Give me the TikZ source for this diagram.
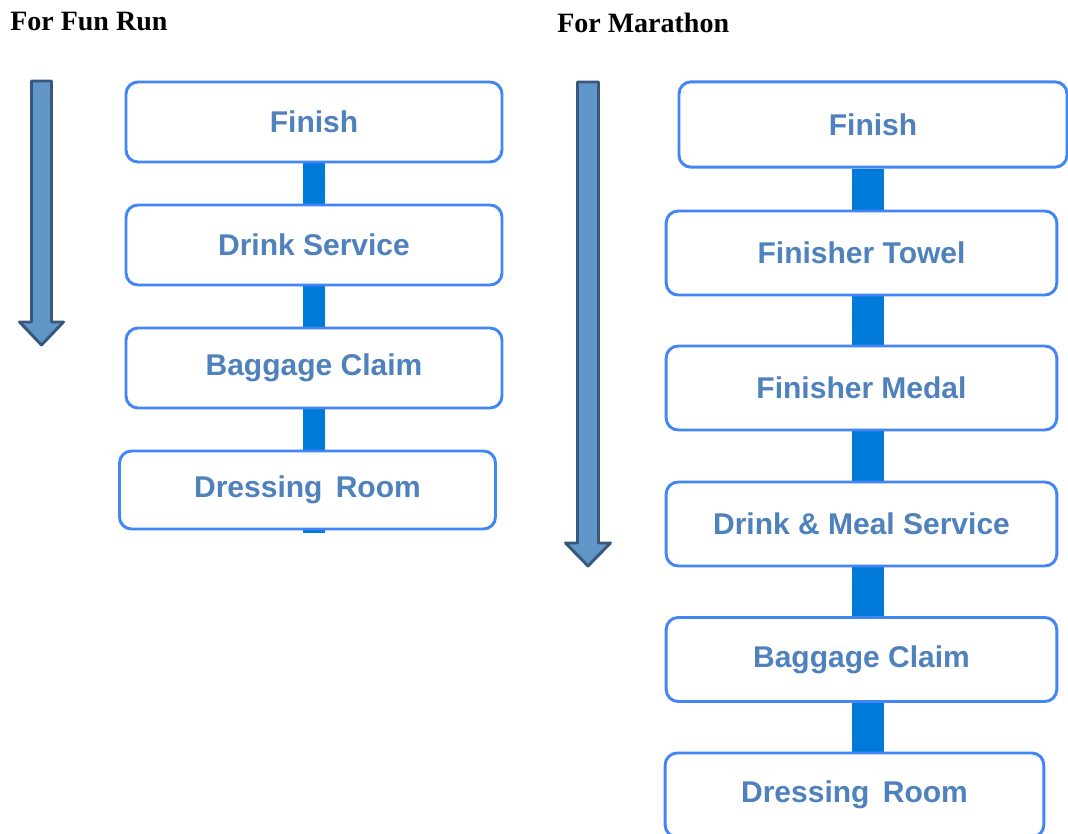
\documentclass[tikz,border=0pt]{standalone}
\usepackage{fontspec}
\setmainfont{Liberation Serif}
\setsansfont{Liberation Sans}
\usepackage{xcolor}
\usetikzlibrary{positioning,backgrounds}
\definecolor{boxline}{RGB}{66,133,244}
\definecolor{boxtext}{RGB}{79,129,189}
\definecolor{linkbar}{RGB}{0,122,216}
\definecolor{arrowfill}{RGB}{97,150,201}
\definecolor{arrowline}{RGB}{56,87,122}
\tikzstyle{stage}=[draw=boxline, line width=2.2pt, rounded corners=9pt, fill=white,
  text=boxtext, font=\sffamily\bfseries\fontsize{22.5}{27}\selectfont, align=center, inner sep=0pt]
\tikzstyle{funbox}=[stage, minimum width=282pt, minimum height=60pt]
\tikzstyle{marbox}=[stage, minimum width=293pt, minimum height=63pt]
\tikzstyle{link}=[draw=linkbar]
\tikzstyle{flow}=[draw=arrowline, fill=arrowfill, line width=2.2pt, line join=round]
\tikzstyle{head}=[font=\bfseries\fontsize{21}{25}\selectfont, inner sep=0pt, anchor=base west]

\begin{document}
\begin{tikzpicture}[x=0.75pt,y=-0.75pt]
\useasboundingbox (0,0) rectangle (1068,834);
% titles
\node[head] (fun) at (10,31) {For Fun Run};
\node[head] (mar) at (557,33) {For Marathon};
% direction arrows
\draw[flow] (31.5,81) -- (51.5,81) -- (51.5,322) -- (63.5,322) -- (41.5,345)
  -- (19.5,322) -- (31.5,322) -- cycle;
\draw[flow] (577.5,82) -- (598.5,82) -- (598.5,543) -- (610.5,543) -- (588,566)
  -- (565.5,543) -- (577.5,543) -- cycle;
% fun run
\node[funbox] (a1) at (314,122) {Finish};
\node[funbox] (a2) at (314,245) {Drink Service};
\node[funbox] (a3) at (314,368) {Baggage Claim};
\node[funbox, minimum height=58.5pt] (a4) at (307.5,490) {Dressing\, Room};
\coordinate (a4end) at (314,533);
% marathon
\node[marbox, minimum width=291pt, minimum height=64pt] (b1) at (873,124.5) {Finish};
\foreach \i/\y/\lab in {2/253/{Finisher Towel}, 3/388/{Finisher Medal},
                        4/524/{Drink \& Meal Service}, 5/659.5/{Baggage Claim}}
  \node[marbox] (b\i) at (861.5,\y) {\lab};
\node[marbox, minimum width=284pt] (b6) at (854.5,795) {Dressing\, Room};
\coordinate (barR) at (868,0);
% connectors
\begin{scope}[on background layer]
\foreach \i/\j in {1/2,2/3}
  \draw[link, line width=16.5pt] (a\i.south) -- (a\j.north);
\draw[link, line width=16.5pt] (a3.south) -- (a4end);
\foreach \i/\j in {1/2,2/3,3/4,4/5,5/6}
  \draw[link, line width=24pt] (b\i.south -| barR) -- (b\j.north -| barR);
\end{scope}
\end{tikzpicture}
\end{document}
